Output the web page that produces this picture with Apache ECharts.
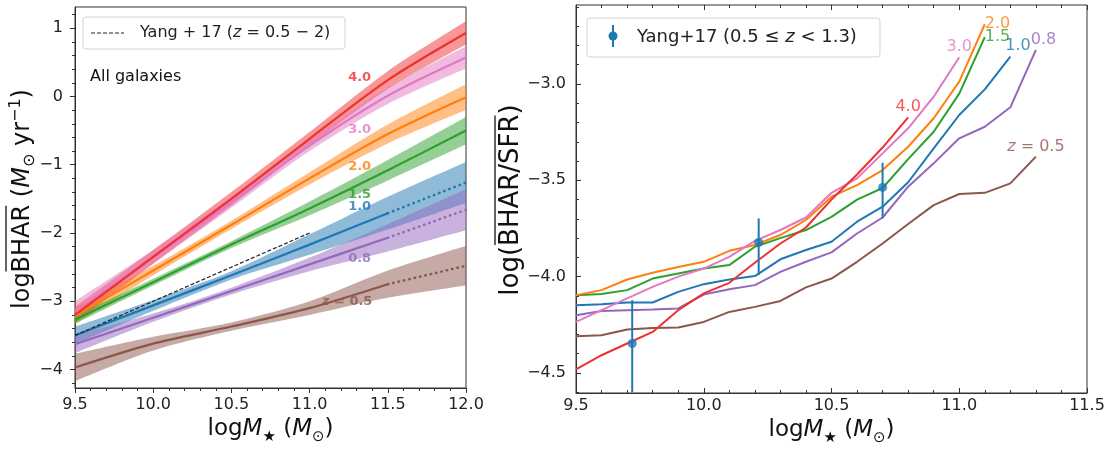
<!DOCTYPE html>
<html>
<head>
<meta charset="utf-8">
<title>BHAR vs stellar mass</title>
<script src="https://cdn.jsdelivr.net/npm/echarts@6/dist/echarts.min.js"></script>
<style>
  html, body { margin: 0; padding: 0; background: #fff; }
  #main { width: 1110px; height: 453px; }
</style>
</head>
<body>
<div id="main"></div>
<script>
// ---------- left panel : log BHAR vs log M* (all galaxies) ----------
var leftX = [9.5, 10.0, 10.5, 11.0, 11.5, 12.0];

var bhar_z40 = [-3.20, -2.35, -1.50, -0.62, 0.24, 0.93];
var bhar_z30 = [-3.15, -2.35, -1.55, -0.72, 0.01, 0.57];
var bhar_z20 = [-3.22, -2.55, -1.88, -1.20, -0.55, -0.01];
var bhar_z15 = [-3.27, -2.72, -2.17, -1.64, -1.08, -0.50];
var bhar_z10 = [-3.50, -3.06, -2.62, -2.17, -1.71, -1.26];
var bhar_z08 = [-3.63, -3.24, -2.85, -2.46, -2.07, -1.66];
var bhar_z05 = [-3.97, -3.62, -3.37, -3.10, -2.75, -2.48];

// half width of the shaded band around each curve
var band_z40 = [0.12, 0.10, 0.10, 0.10, 0.13, 0.17];
var band_z30 = [0.15, 0.10, 0.08, 0.08, 0.12, 0.16];
var band_z20 = [0.12, 0.07, 0.06, 0.09, 0.14, 0.19];
var band_z15 = [0.06, 0.05, 0.05, 0.10, 0.15, 0.20];
var band_z10 = [0.13, 0.08, 0.06, 0.15, 0.24, 0.30];
var band_z08 = [0.13, 0.06, 0.05, 0.10, 0.20, 0.30];
var band_z05 = [0.20, 0.10, 0.06, 0.10, 0.20, 0.29];

// Yang+17 relation (dashed)
var yangLineX = [9.5, 11.0];
var yangLineY = [-3.5, -2.0];

var leftYTicks = [-4, -3, -2, -1, 0, 1];
var leftLabels = ['4.0', '3.0', '2.0', '1.5', '1.0', '0.8', '{i|z} = 0.5'];
var leftLabelX = [11.32, 11.32, 11.32, 11.32, 11.32, 11.32, 11.24];
var leftLabelY = [0.27, -0.49, -1.03, -1.44, -1.61, -2.37, -3.01];

// ---------- right panel : log(BHAR/SFR) vs log M* ----------
var rightX = [9.5, 9.6, 9.7, 9.8, 9.9, 10.0, 10.1, 10.2, 10.3, 10.4, 10.5, 10.6, 10.7, 10.8, 10.9, 11.0, 11.1, 11.2, 11.3];

var ratio_z40 = [-4.482, -4.408, -4.347, -4.287, -4.174, -4.087, -4.032, -3.928, -3.828, -3.745, -3.600, -3.470, -3.330, -3.173];
var ratio_z30 = [-4.235, -4.174, -4.113, -4.053, -4.000, -3.958, -3.897, -3.814, -3.758, -3.693, -3.565, -3.490, -3.360, -3.230, -3.066, -2.861];
var ratio_z20 = [-4.096, -4.070, -4.015, -3.980, -3.950, -3.923, -3.866, -3.836, -3.784, -3.706, -3.585, -3.525, -3.447, -3.326, -3.178, -2.988, -2.690];
var ratio_z15 = [-4.096, -4.090, -4.070, -4.010, -3.984, -3.958, -3.940, -3.845, -3.800, -3.758, -3.690, -3.600, -3.540, -3.390, -3.248, -3.050, -2.757];
var ratio_z10 = [-4.148, -4.143, -4.134, -4.134, -4.079, -4.039, -4.015, -3.997, -3.910, -3.862, -3.819, -3.715, -3.637, -3.510, -3.334, -3.161, -3.028, -2.858];
var ratio_z08 = [-4.200, -4.178, -4.174, -4.171, -4.165, -4.093, -4.065, -4.044, -3.975, -3.923, -3.874, -3.776, -3.693, -3.533, -3.412, -3.282, -3.222, -3.121, -2.823];
var ratio_z05 = [-4.309, -4.304, -4.274, -4.266, -4.264, -4.235, -4.183, -4.157, -4.126, -4.056, -4.010, -3.923, -3.828, -3.727, -3.629, -3.571, -3.565, -3.516, -3.377];

// Yang+17 points with error bars
var yangX  = [9.72, 10.215, 10.70];
var yangY  = [-4.347, -3.823, -3.537];
var yangLo = [-4.60, -3.992, -3.698];
var yangHi = [-4.122, -3.698, -3.409];

var rightYTicks = [-4.5, -4.0, -3.5, -3.0];
var rightLabels = ['4.0', '3.0', '2.0', '1.5', '1.0', '0.8', '{i|z} = 0.5'];
var rightLabelX = [10.80, 11.00, 11.15, 11.15, 11.23, 11.33, 11.30];
var rightLabelY = [-3.121, -2.806, -2.690, -2.757, -2.800, -2.770, -3.326];

// ---------- styling ----------
var FONT = 'DejaVu Sans';
var zColors = ['#f03030', '#e377c2', '#ff7f0e', '#2ca02c', '#1f77b4', '#9467bd', '#8c564b'];
var BLUE = '#1f77b4';

var leftCurves = [bhar_z40, bhar_z30, bhar_z20, bhar_z15, bhar_z10, bhar_z08, bhar_z05];
var leftBands = [band_z40, band_z30, band_z20, band_z15, band_z10, band_z08, band_z05];
var leftDotted = [false, false, false, false, true, true, true]; // dotted above 11.5
var rightCurves = [ratio_z40, ratio_z30, ratio_z20, ratio_z15, ratio_z10, ratio_z08, ratio_z05];

function minus(v, d) {
    var s = d === undefined ? String(v) : v.toFixed(d);
    return s.replace('-', '\u2212');
}
function steps(a, b, st) {  // minor tick positions
    var out = [];
    for (var v = a; v <= b + 1e-9; v += st) out.push(+v.toFixed(2));
    return out;
}
function pairs(xs, ys) {
    return ys.map(function (y, k) { return [xs[k], y]; });
}

// text width, same canvas metrics echarts uses
var measureCtx = document.createElement('canvas').getContext('2d');
function textW(str, size, italic) {
    measureCtx.font = (italic ? 'italic ' : '') + size + 'px ' + FONT;
    return measureCtx.measureText(str).width;
}

var titleRich = {
    n: { fontFamily: FONT, fontSize: 23, color: '#111', lineHeight: 30 },
    i: { fontFamily: FONT, fontSize: 23, color: '#111', fontStyle: 'italic', lineHeight: 30 },
    sub: { fontFamily: FONT, fontSize: 15, color: '#111', verticalAlign: 'bottom', lineHeight: 14 },
    sup: { fontFamily: FONT, fontSize: 15, color: '#111', verticalAlign: 'top', lineHeight: 14 }
};
var tickLabel = { fontFamily: FONT, fontSize: 16, color: '#222' };
var tickLine = { color: '#333', width: 1 };

// vertical axis title, read bottom to top, with an overline over part of it
// returns [rotated text, overline] as two graphic elements
function yTitle(cx, cy, size, barX, head, bar, tail) {
    var rich = {
        n: { fontFamily: FONT, fontSize: size, fill: '#111', lineHeight: size + 6 },
        i: { fontFamily: FONT, fontSize: size, fill: '#111', fontStyle: 'italic', lineHeight: size + 6 },
        sub: { fontFamily: FONT, fontSize: Math.round(size * 0.66), fill: '#111', verticalAlign: 'bottom', lineHeight: 14 },
        sup: { fontFamily: FONT, fontSize: Math.round(size * 0.66), fill: '#111', verticalAlign: 'top', lineHeight: 14 }
    };
    var str = '{n|' + head + bar + '}';
    var w0 = textW(head, size), wBar = textW(bar, size);
    var total = w0 + wBar;
    tail.forEach(function (p) {
        str += '{' + p[1] + '|' + p[0] + '}';
        var s = (p[1] === 'sub' || p[1] === 'sup') ? rich.sub.fontSize : size;
        total += textW(p[0], s, p[1] === 'i');
    });
    // along the text, screen y decreases; "up" of the glyphs is screen -x
    var yStart = cy + total / 2;
    return [
        { type: 'text', z: 100, x: cx, y: cy, rotation: Math.PI / 2,
          style: { text: str, verticalAlign: 'middle', align: 'center', rich: rich } },
        { type: 'line', z: 100,
          shape: { x1: barX, y1: yStart - w0 - 1, x2: barX, y2: yStart - w0 - wBar + 1 },
          style: { stroke: '#111', lineWidth: 1.3 } }
    ];
}

var series = [];

// shaded bands: stacked lines on a hidden category axis (same spacing as leftX)
leftCurves.forEach(function (ys, i) {
    var w = leftBands[i];
    var lo = ys.map(function (v, k) { return +(v - w[k]).toFixed(3); });
    var span = w.map(function (h) { return +(2 * h).toFixed(3); });
    series.push({
        type: 'line', xAxisIndex: 1, yAxisIndex: 0, stack: 'band' + i, stackStrategy: 'all',
        data: lo, symbol: 'none', smooth: 0.3, silent: true, z: 1,
        lineStyle: { opacity: 0 }
    });
    series.push({
        type: 'line', xAxisIndex: 1, yAxisIndex: 0, stack: 'band' + i, stackStrategy: 'all',
        data: span, symbol: 'none', smooth: 0.3, silent: true, z: 1,
        lineStyle: { opacity: 0 },
        areaStyle: { color: zColors[i], opacity: 0.5 }
    });
});

// centre lines, drawn low z first so red ends on top
for (var i = leftCurves.length - 1; i >= 0; i--) {
    var ys = leftCurves[i];
    var solidEnd = leftDotted[i] ? 5 : 6;
    series.push({
        type: 'line', xAxisIndex: 0, yAxisIndex: 0, symbol: 'none', smooth: 0.3, z: 3,
        data: pairs(leftX, ys).slice(0, solidEnd),
        lineStyle: { color: zColors[i], width: 2.2 }
    });
    if (leftDotted[i]) {
        series.push({
            type: 'line', xAxisIndex: 0, yAxisIndex: 0, symbol: 'none', z: 3,
            data: pairs(leftX, ys).slice(4),
            lineStyle: { color: zColors[i], width: 2.5, type: [0.5, 5], cap: 'round' }
        });
    }
}

series.push({
    type: 'line', xAxisIndex: 0, yAxisIndex: 0, symbol: 'none', z: 4,
    data: pairs(yangLineX, yangLineY),
    lineStyle: { color: '#222', width: 1.2, type: [4, 2] }
});

// redshift labels, left
series.push({
    type: 'scatter', xAxisIndex: 0, yAxisIndex: 0, symbolSize: 0, silent: true, z: 5,
    data: leftLabels.map(function (t, k) {
        return { value: [leftLabelX[k], leftLabelY[k]], label: { formatter: t, color: zColors[k] } };
    }),
    label: {
        show: true, position: 'inside', fontFamily: FONT, fontSize: 13, fontWeight: 'bold',
        rich: { i: { fontFamily: FONT, fontSize: 13, fontWeight: 'bold', fontStyle: 'italic' } }
    }
});

// right panel lines
for (var j = rightCurves.length - 1; j >= 0; j--) {
    series.push({
        type: 'line', xAxisIndex: 2, yAxisIndex: 2, symbol: 'none', z: 3,
        data: pairs(rightX, rightCurves[j]),
        lineStyle: { color: zColors[j], width: 2 }
    });
}

// Yang+17 error bars + points
series.push({
    type: 'custom', xAxisIndex: 2, yAxisIndex: 2, clip: true, z: 6,
    data: yangX.map(function (x, k) { return [x, yangLo[k], yangHi[k]]; }),
    renderItem: function (params, api) {
        var p1 = api.coord([api.value(0), api.value(1)]);
        var p2 = api.coord([api.value(0), api.value(2)]);
        return {
            type: 'line',
            shape: { x1: p1[0], y1: p1[1], x2: p2[0], y2: p2[1] },
            style: { stroke: BLUE, lineWidth: 2 }
        };
    }
});
series.push({
    type: 'scatter', xAxisIndex: 2, yAxisIndex: 2, z: 7,
    data: pairs(yangX, yangY), symbolSize: 9,
    itemStyle: { color: BLUE }
});

series.push({
    type: 'scatter', xAxisIndex: 2, yAxisIndex: 2, symbolSize: 0, silent: true, z: 5,
    data: rightLabels.map(function (t, k) {
        return { value: [rightLabelX[k], rightLabelY[k]], label: { formatter: t, color: zColors[k] } };
    }),
    label: {
        show: true, position: 'inside', fontFamily: FONT, fontSize: 16,
        rich: { i: { fontFamily: FONT, fontSize: 16, fontStyle: 'italic' } }
    }
});

var xName = '{n|log}{i|M}{sub|\u2605}{n| (}{i|M}{sub|\u2299}{n|)}';

var graphics = []
    .concat(yTitle(23, 199, 24, 6, 'log', 'BHAR', [[' (', 'n'], ['M', 'i'], ['\u2299', 'sub'], [' yr', 'n'], ['\u22121', 'sup'], [')', 'n']]))
    .concat(yTitle(511, 200, 26, 495, 'log(', 'BHAR/SFR', [[')', 'n']]))
    .concat([
        // left legend box
        { type: 'rect', z: 100, shape: { x: 83, y: 17, width: 262, height: 32, r: 3 },
          style: { fill: 'rgba(255,255,255,0.85)', stroke: '#d3d3d3', lineWidth: 1 } },
        { type: 'line', z: 101, shape: { x1: 91, y1: 33, x2: 124, y2: 33 },
          style: { stroke: '#222', lineWidth: 1, lineDash: [4, 2] } },
        { type: 'text', z: 101, x: 140, y: 33,
          style: { text: '{n|Yang + 17 (}{i|z}{n| = 0.5 \u2212 2)}', verticalAlign: 'middle',
                   rich: { n: { fontFamily: FONT, fontSize: 16, fill: '#222' },
                           i: { fontFamily: FONT, fontSize: 16, fontStyle: 'italic', fill: '#222' } } } },
        { type: 'text', z: 101, x: 90, y: 77,
          style: { text: 'All galaxies', fontFamily: FONT, fontSize: 16, fill: '#111', verticalAlign: 'middle' } },
        // right legend box
        { type: 'rect', z: 100, shape: { x: 587, y: 18, width: 293, height: 39, r: 3 },
          style: { fill: 'rgba(255,255,255,0.85)', stroke: '#d3d3d3', lineWidth: 1 } },
        { type: 'line', z: 101, shape: { x1: 613, y1: 25, x2: 613, y2: 47 },
          style: { stroke: BLUE, lineWidth: 2 } },
        { type: 'circle', z: 101, shape: { cx: 613, cy: 36, r: 4.5 }, style: { fill: BLUE } },
        { type: 'text', z: 101, x: 637, y: 37,
          style: { text: '{n|Yang+17 (0.5 \u2264 }{i|z}{n| < 1.3)}', verticalAlign: 'middle',
                   rich: { n: { fontFamily: FONT, fontSize: 18, fill: '#222' },
                           i: { fontFamily: FONT, fontSize: 18, fontStyle: 'italic', fill: '#222' } } } }
    ]);

var option = {
    animation: false,
    backgroundColor: '#fff',
    grid: [
        { left: 75, top: 7, width: 391, height: 381, show: true, borderColor: '#333', borderWidth: 1 },
        { left: 576, top: 5, width: 511, height: 388, show: true, borderColor: '#333', borderWidth: 1 }
    ],
    xAxis: [
        {   // 0: left, value
            type: 'value', gridIndex: 0, min: 9.5, max: 12, interval: 0.5,
            axisLine: { onZero: false, lineStyle: { color: '#333' } },
            axisTick: { length: 5, lineStyle: tickLine },
            minorTick: { show: true, splitNumber: 5, length: 3, lineStyle: tickLine },
            splitLine: { show: false },
            axisLabel: Object.assign({ margin: 9, formatter: function (v) { return v.toFixed(1); } }, tickLabel),
            name: xName, nameLocation: 'middle', nameGap: 24,
            nameTextStyle: { rich: titleRich }
        },
        {   // 1: left, hidden category axis for the bands
            type: 'category', gridIndex: 0, data: leftX.map(String), boundaryGap: false, show: false
        },
        {   // 2: right, value
            type: 'value', gridIndex: 1, min: 9.5, max: 11.5, interval: 0.5,
            axisLine: { onZero: false, lineStyle: { color: '#333' } },
            axisTick: { inside: true, length: 5, lineStyle: tickLine },
            minorTick: { show: true, splitNumber: 5, length: 3, lineStyle: tickLine },
            splitLine: { show: false },
            axisLabel: Object.assign({ margin: 5, formatter: function (v) { return v.toFixed(1); } }, tickLabel),
            name: xName, nameLocation: 'middle', nameGap: 21,
            nameTextStyle: { rich: titleRich }
        },
        {   // 3: right, top ticks only
            type: 'value', gridIndex: 1, position: 'top', min: 9.5, max: 11.5, interval: 0.5,
            axisLine: { show: false, onZero: false },
            axisTick: { inside: true, length: 5, lineStyle: tickLine },
            minorTick: { show: true, splitNumber: 5, length: 3, lineStyle: tickLine },
            splitLine: { show: false },
            axisLabel: { show: false }
        }
    ],
    yAxis: [
        {   // 0: left main
            type: 'value', gridIndex: 0, position: 'left', min: -4.27, max: 1.31,
            axisLine: { show: true, onZero: false, lineStyle: { color: '#333' } },
            axisTick: { length: 5, customValues: leftYTicks, lineStyle: tickLine },
            axisLabel: Object.assign({ margin: 12, customValues: leftYTicks, formatter: function (v) { return minus(v); } }, tickLabel),
            splitLine: { show: false }
        },
        {   // 1: left minor ticks
            type: 'value', gridIndex: 0, position: 'left', min: -4.27, max: 1.31,
            axisLine: { show: false, onZero: false },
            axisTick: { length: 3, customValues: steps(-4.2, 1.2, 0.2), lineStyle: tickLine },
            axisLabel: { show: false },
            splitLine: { show: false }
        },
        {   // 2: right main
            type: 'value', gridIndex: 1, position: 'left', min: -4.604, max: -2.59,
            axisLine: { show: true, onZero: false, lineStyle: { color: '#333' } },
            axisTick: { inside: true, length: 5, customValues: rightYTicks, lineStyle: tickLine },
            axisLabel: Object.assign({ margin: 10, customValues: rightYTicks, formatter: function (v) { return minus(v, 1); } }, tickLabel),
            splitLine: { show: false }
        },
        {   // 3: right minor ticks
            type: 'value', gridIndex: 1, position: 'left', min: -4.604, max: -2.59,
            axisLine: { show: false, onZero: false },
            axisTick: { inside: true, length: 3, customValues: steps(-4.6, -2.6, 0.1), lineStyle: tickLine },
            axisLabel: { show: false },
            splitLine: { show: false }
        }
    ],
    graphic: graphics,
    series: series
};

var myChart = echarts.init(document.getElementById('main'));
myChart.setOption(option);
</script>
</body>
</html>
